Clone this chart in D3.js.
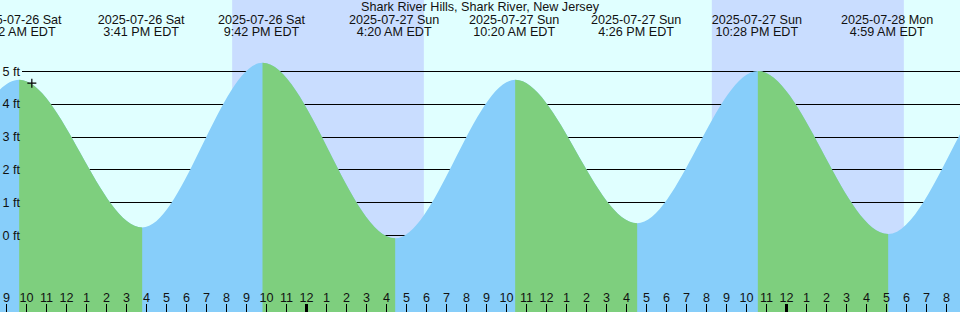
<!DOCTYPE html>
<html lang="en">
<head>
<meta charset="utf-8">
<style>
  body { margin: 0; background: white; }
  svg { display: block; font-family: 'Liberation Sans', Arial, sans-serif; }
  .grid line { stroke: black; stroke-width: 1px; shape-rendering: crispEdges; }
  text { fill: #111; }
</style>
</head>
<body>
<svg width="960" height="312"></svg>
<script src="https://d3js.org/d3.v7.min.js"></script>
<script>

var title = "Shark River Hills, Shark River, New Jersey";

// tide extremes (the two first and two last are off the picture, they only shape the curve)
var eventTimes = ["2025-07-25 21:05", "2025-07-26 03:22", "2025-07-26 09:32", "2025-07-26 15:41", "2025-07-26 21:42",
                  "2025-07-27 04:20", "2025-07-27 10:20", "2025-07-27 16:26", "2025-07-27 22:28",
                  "2025-07-28 04:59", "2025-07-28 11:08", "2025-07-28 17:15"];
var eventHeights = [5.2, 0.15, 4.73, 0.23, 5.25, -0.1, 4.73, 0.36, 5.0, 0.03, 4.9, 0.45];
var eventLabels = [null, null, "2025-07-26 Sat|9:32 AM EDT", "2025-07-26 Sat|3:41 PM EDT", "2025-07-26 Sat|9:42 PM EDT",
                   "2025-07-27 Sun|4:20 AM EDT", "2025-07-27 Sun|10:20 AM EDT", "2025-07-27 Sun|4:26 PM EDT",
                   "2025-07-27 Sun|10:28 PM EDT", "2025-07-28 Mon|4:59 AM EDT", null, null];

var nightStarts = ["2025-07-26 20:17", "2025-07-27 20:16"];
var nightEnds   = ["2025-07-27 05:52", "2025-07-28 05:52"];

var feetTicks = [0, 1, 2, 3, 4, 5];
var markTime = "2025-07-26 10:10", markHeight = 4.63;

var svg = d3.select("svg"),
    width = +svg.attr("width"),
    height = +svg.attr("height");

var parse = d3.timeParse("%Y-%m-%d %H:%M");
var fontSize = "12.6px";

var x = d3.scaleTime()
    .domain([parse("2025-07-26 09:00"), parse("2025-07-27 09:00")])
    .range([6.5, 486.5]);
var y = d3.scaleLinear().domain([0, 5]).range([235, 71]);

var tideShift = 2;

var events = eventTimes.map((t, i) => ({ t: parse(t), h: eventHeights[i], label: eventLabels[i] }));

// sky
svg.append("rect").attr("width", width).attr("height", height).attr("fill", "#e0ffff");
svg.append("g").selectAll("rect")
  .data(nightStarts.map((s, i) => [parse(s), parse(nightEnds[i])]))
  .enter().append("rect")
    .attr("x", d => x(d[0]))
    .attr("width", d => x(d[1]) - x(d[0]))
    .attr("y", 0).attr("height", height)
    .attr("fill", "#c9ddff");

// grid lines (under the water)
var grid = svg.append("g").attr("class", "grid");
grid.selectAll("line").data(feetTicks).enter().append("line")
  .attr("x1", 22).attr("x2", width)
  .attr("y1", d => Math.round(y(d)) + 0.5).attr("y2", d => Math.round(y(d)) + 0.5);

// tide
var area = d3.area()
    .curve(d3.curveMonotoneX)
    .x(d => x(d.t))
    .y0(height)
    .y1(d => y(d.h));

var tide = svg.append("g").attr("transform", "translate(" + tideShift + ",0)");
tide.append("path").datum(events).attr("d", area).attr("fill", "#87cefa");

var falling = [];
for (var i = 0; i < events.length - 1; i++) {
  if (events[i + 1].h < events[i].h) falling.push([events[i].t, events[i + 1].t]);
}
var clip = svg.append("defs").append("clipPath").attr("id", "falling");
clip.selectAll("rect").data(falling).enter().append("rect")
  .attr("x", d => x(d[0])).attr("width", d => x(d[1]) - x(d[0]))
  .attr("y", 0).attr("height", height);
tide.append("path").datum(events).attr("d", area)
  .attr("fill", "#7ecf7e").attr("clip-path", "url(#falling)");

// feet labels
svg.append("g").selectAll("text").data(feetTicks).enter().append("text")
  .attr("x", 20).attr("y", d => y(d) + 4.5)
  .attr("text-anchor", "end")
  .style("font-size", fontSize)
  .text(d => d + " ft");

// marker
var mx = x(parse(markTime)) + tideShift, my = y(markHeight);
svg.append("path")
  .attr("d", "M" + (mx - 4.5) + "," + my + "H" + (mx + 4.5) + "M" + mx + "," + (my - 4.5) + "V" + (my + 4.5))
  .attr("stroke", "black").attr("stroke-width", 1.2);

// event labels
var lab = svg.append("g").selectAll("text")
  .data(events.filter(d => d.label))
  .enter().append("text")
    .attr("text-anchor", "middle")
    .style("font-size", fontSize);
lab.append("tspan").attr("x", d => x(d.t) + 1).attr("y", 24).text(d => d.label.split("|")[0]);
lab.append("tspan").attr("x", d => x(d.t) + 1).attr("y", 36).text(d => d.label.split("|")[1]);

svg.append("text")
  .attr("x", width / 2).attr("y", 11)
  .attr("text-anchor", "middle")
  .style("font-size", fontSize)
  .text(title);

// hour axis
var hours = d3.timeHour.range(parse("2025-07-26 09:00"), parse("2025-07-28 09:00"));
var hourFmt = d3.timeFormat("%-I");
var ax = svg.append("g");
ax.selectAll("line").data(hours).enter().append("line")
  .attr("x1", d => x(d)).attr("x2", d => x(d))
  .attr("y1", 304).attr("y2", height)
  .attr("stroke", "black")
  .attr("stroke-width", d => d.getHours() === 0 ? 3 : 1);
ax.selectAll("text").data(hours).enter().append("text")
  .attr("x", d => x(d)).attr("y", 302)
  .attr("text-anchor", "middle")
  .style("font-size", fontSize)
  .text(d => hourFmt(d));

</script>
</body>
</html>
